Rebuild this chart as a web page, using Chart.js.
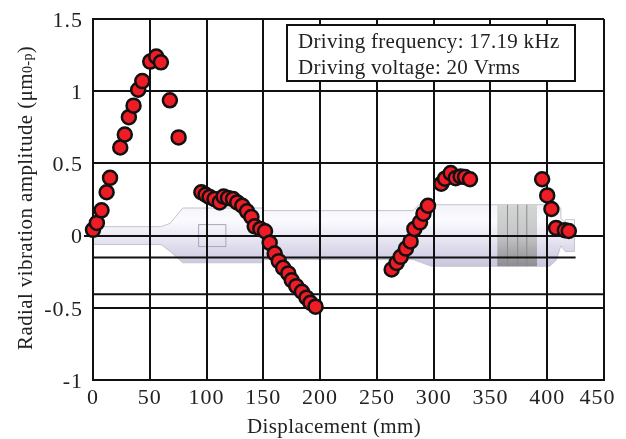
<!DOCTYPE html>
<html>
<head>
<meta charset="utf-8">
<style>
  html, body { margin: 0; padding: 0; background: #fff; }
  canvas { display: block; }
</style>
<script src="https://cdn.jsdelivr.net/npm/chart.js@4"></script>
</head>
<body>
<canvas id="chart" width="626" height="439"></canvas>
<script>
// Displacement (mm), amplitude (um 0-p), one array pair for each run of points
const xRun1 = [0, 3.4, 7.5, 12, 15, 24, 28, 31.6, 35.7, 39.8, 43.4, 50.4, 55.7, 59.8, 67.7, 75.4];
const yRun1 = [0.04, 0.088, 0.175, 0.30, 0.40, 0.61, 0.70, 0.82, 0.90, 1.01, 1.07, 1.205, 1.24, 1.20, 0.937, 0.68];
const xRun2 = [95.4, 99.2, 102.7, 107, 111.6, 115, 118.9, 123.3, 127, 131.5, 135.6, 139.5, 142.4, 147.4, 151.5, 155.6, 160, 163.6, 167.4, 172, 175, 179, 184, 188, 191.5, 196];
const yRun2 = [0.30, 0.283, 0.267, 0.253, 0.23, 0.27, 0.26, 0.253, 0.23, 0.207, 0.168, 0.129, 0.064, 0.046, 0.03, -0.05, -0.124, -0.177, -0.223, -0.262, -0.309, -0.35, -0.389, -0.43, -0.465, -0.492];
const xRun3 = [263, 267.4, 271, 275.6, 279.7, 283, 288, 291, 295, 306.7, 310, 315, 319.4, 323.8, 327.6, 332];
const yRun3 = [-0.235, -0.189, -0.147, -0.09, -0.04, 0.046, 0.092, 0.152, 0.207, 0.359, 0.394, 0.433, 0.398, 0.41, 0.405, 0.39];
const xRun4 = [395.5, 400, 403.7, 407.8, 415.5, 419];
const yRun4 = [0.39, 0.278, 0.184, 0.053, 0.037, 0.032];

// 450 sits left of its grid line in the original, the spaces push it over
const xTicks = ['0', '50', '100', '150', '200', '250', '300', '350', '400', '450  '];
const yTicks = ['-1', '-0.5', '0', '0.5', '1', '1.5'];

// the two extra horizontal rules
const ruleA = [[0, -0.152], [425, -0.152]];
const ruleB = [[0, -0.407], [450, -0.407]];

// outline of the horn drawing behind the data, in axis units
const hornOutline = [[0, 0.062], [60, 0.062], [68, 0.085], [79, 0.191], [149, 0.191], [151, 0.173], [282, 0.173], [287, 0.214], [405, 0.214], [412, 0.19], [412, 0.12], [416, 0.09], [416, 0.11], [424, 0.11], [424, -0.11], [416, -0.11], [412, -0.07], [408, -0.17], [402, -0.212], [298, -0.212], [282, -0.166], [151, -0.166], [149, -0.188], [79, -0.188], [68, -0.11], [60, -0.062], [0, -0.062]];
const hornSquare = [[93, 0.076], [117, -0.076]];
const hornBand = [356, 391];
const hornBandLines = [365, 374, 382];

const serif = '"Liberation Serif", "Times New Roman", serif';
const ink = '#111';
const textInk = '#222';

function pairs(xs, ys) {
  return xs.map((x, i) => ({ x: x, y: ys[i] }));
}

function points(xs, ys) {
  return {
    data: pairs(xs, ys),
    showLine: false,
    clip: false,
    pointRadius: 7,
    pointHoverRadius: 7,
    pointBackgroundColor: '#ee1c25',
    pointBorderColor: ink,
    pointBorderWidth: 2.5,
    order: 1
  };
}

function rule(line) {
  return {
    data: line.map(p => ({ x: p[0], y: p[1] })),
    showLine: true,
    borderColor: ink,
    borderWidth: 2,
    pointRadius: 0,
    order: 2
  };
}

const decorations = {
  id: 'decorations',
  beforeDraw(chart) {
    const ctx = chart.ctx;
    const sx = chart.scales.x, sy = chart.scales.y;
    const px = v => sx.getPixelForValue(v), py = v => sy.getPixelForValue(v);
    // tick labels run a little wider than the plain font
    ctx.letterSpacing = '1px';
    ctx.save();
    ctx.fillStyle = '#fff';
    ctx.fillRect(0, 0, chart.width, chart.height);

    // horn body
    const grad = ctx.createLinearGradient(0, py(0.214), 0, py(-0.212));
    grad.addColorStop(0, '#f2f2f8');
    grad.addColorStop(0.25, '#fbfbff');
    grad.addColorStop(0.6, '#e4e3f0');
    grad.addColorStop(1, '#c9c5de');
    ctx.beginPath();
    hornOutline.forEach((p, i) => {
      if (i === 0) ctx.moveTo(px(p[0]), py(p[1]));
      else ctx.lineTo(px(p[0]), py(p[1]));
    });
    ctx.closePath();
    ctx.fillStyle = grad;
    ctx.fill();
    ctx.strokeStyle = '#c4c4cc';
    ctx.lineWidth = 1;
    ctx.stroke();

    // stack of rings
    const band = ctx.createLinearGradient(0, py(0.214), 0, py(-0.212));
    band.addColorStop(0, '#d4d5d5');
    band.addColorStop(0.5, '#c6c6c8');
    band.addColorStop(1, '#8c8c92');
    ctx.fillStyle = band;
    ctx.fillRect(px(hornBand[0]), py(0.214), px(hornBand[1]) - px(hornBand[0]), py(-0.212) - py(0.214));
    ctx.strokeStyle = '#8a8a8a';
    hornBandLines.forEach(v => {
      ctx.beginPath();
      ctx.moveTo(px(v), py(0.214));
      ctx.lineTo(px(v), py(-0.212));
      ctx.stroke();
    });

    ctx.strokeStyle = '#a8a8b4';
    ctx.strokeRect(px(hornSquare[0][0]), py(hornSquare[0][1]), px(hornSquare[1][0]) - px(hornSquare[0][0]), py(hornSquare[1][1]) - py(hornSquare[0][1]));
    ctx.restore();
  },
  afterDraw(chart) {
    const ctx = chart.ctx;
    ctx.save();
    ctx.fillStyle = textInk;
    ctx.textBaseline = 'alphabetic';
    ctx.letterSpacing = '0.4px';

    // x axis title
    ctx.font = '21px ' + serif;
    ctx.textAlign = 'left';
    ctx.fillText('Displacement (mm)', 247, 433);

    // y axis title with the small 0-p
    ctx.save();
    ctx.translate(32, 350);
    ctx.rotate(-Math.PI / 2);
    const main = 'Radial vibration amplitude (\u03bcm';
    ctx.fillText(main, 0, 0);
    let w = ctx.measureText(main).width;
    ctx.font = '14px ' + serif;
    ctx.fillText('0-p', w, 0);
    w += ctx.measureText('0-p').width;
    ctx.font = '21px ' + serif;
    ctx.fillText(')', w, 0);
    ctx.restore();

    // text box
    ctx.fillStyle = '#fff';
    ctx.fillRect(287, 25, 288, 56);
    ctx.strokeStyle = ink;
    ctx.lineWidth = 2;
    ctx.strokeRect(287, 25, 288, 56);
    ctx.fillStyle = textInk;
    ctx.letterSpacing = '0.3px';
    ctx.fillText('Driving frequency: 17.19 kHz', 298, 48);
    ctx.fillText('Driving voltage: 20 Vrms', 298, 74);
    ctx.restore();
    ctx.letterSpacing = '0px';
  }
};

new Chart(document.getElementById('chart'), {
  type: 'scatter',
  data: {
    datasets: [
      rule(ruleA),
      rule(ruleB),
      points(xRun1, yRun1),
      points(xRun2, yRun2),
      points(xRun3, yRun3),
      points(xRun4, yRun4)
    ]
  },
  plugins: [decorations],
  options: {
    responsive: false,
    animation: false,
    layout: { padding: { top: 19, right: 22 } },
    plugins: { legend: { display: false }, tooltip: { enabled: false } },
    scales: {
      x: {
        type: 'linear',
        min: 0,
        max: 450,
        // keep the plot edge fixed, the last label may hang over
        afterFit: s => { s.height = 59; s.paddingLeft = 0; s.paddingRight = 0; },
        grid: { color: ink, lineWidth: 2, drawTicks: false },
        border: { color: ink, width: 2 },
        ticks: {
          stepSize: 50,
          maxRotation: 0,
          autoSkip: false,
          padding: 5,
          color: textInk,
          font: { family: serif, size: 22 },
          callback: (v, i) => xTicks[i]
        }
      },
      y: {
        min: -1,
        max: 1.5,
        afterFit: s => { s.width = 93; s.paddingTop = 0; s.paddingBottom = 0; },
        grid: {
          color: ink,
          lineWidth: 2,
          tickLength: 9,
          tickColor: c => (c.tick && c.tick.value === 0 ? ink : 'rgba(0,0,0,0)')
        },
        border: { color: ink, width: 2 },
        ticks: {
          stepSize: 0.5,
          autoSkip: false,
          padding: 1,
          labelOffset: 2,
          color: textInk,
          font: { family: serif, size: 22 },
          callback: (v, i) => yTicks[i]
        }
      }
    }
  }
});
</script>
</body>
</html>
